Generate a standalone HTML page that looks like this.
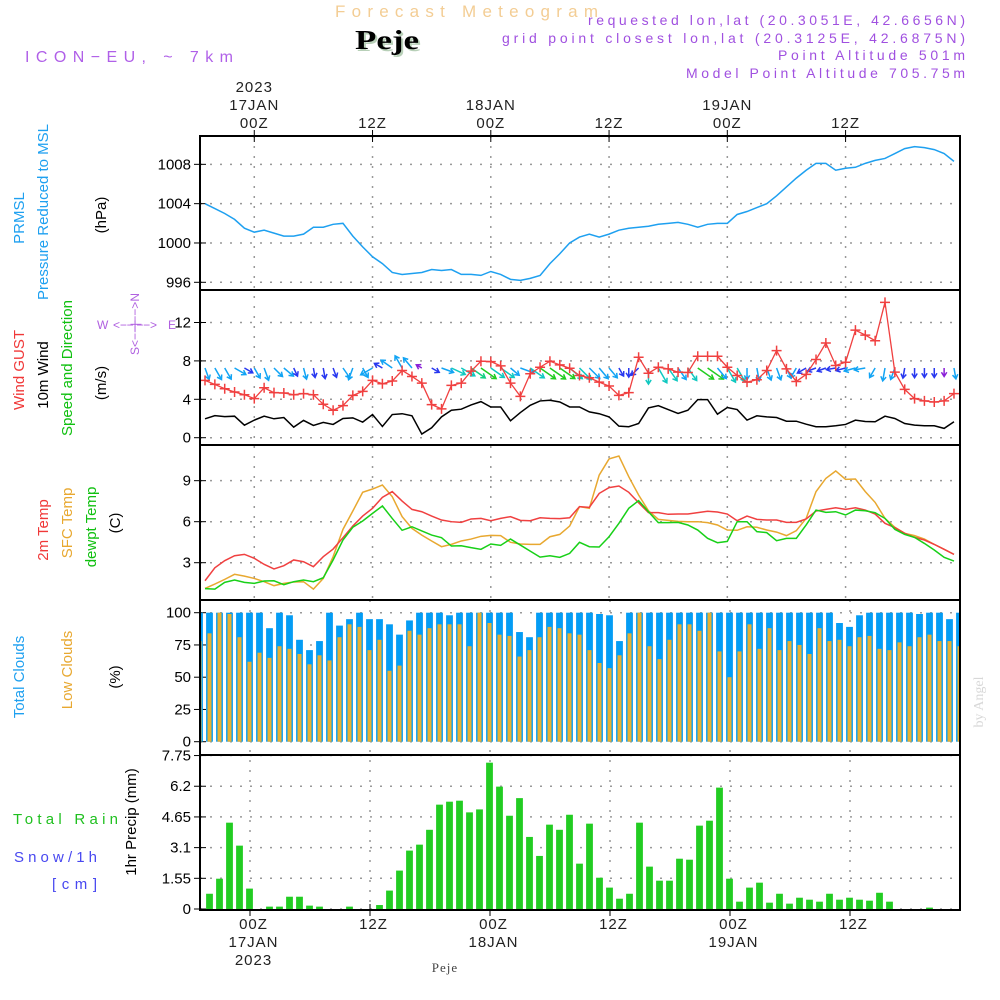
<!DOCTYPE html>
<html><head><meta charset="utf-8"><title>Forecast Meteogram - Peje</title>
<style>
html,body{margin:0;padding:0;background:#fff;}
svg{display:block;font-family:"Liberation Sans",sans-serif;}
.tk{font-size:15px;fill:#000;}
.ax{font-size:15px;fill:#222;letter-spacing:1px;}
</style></head>
<body>
<svg id="chart" width="1000" height="1000" viewBox="0 0 1000 1000" xmlns="http://www.w3.org/2000/svg">
<g>
<text x="335" y="17" font-size="17" fill="#f3cd94" textLength="263" lengthAdjust="spacing">Forecast Meteogram</text>
<text x="357" y="51" font-size="27" font-weight="bold" font-family="Liberation Serif,serif" fill="#b8d0b8" textLength="64" lengthAdjust="spacingAndGlyphs">Peje</text>
<text x="355" y="49" font-size="27" font-weight="bold" font-family="Liberation Serif,serif" fill="#000" textLength="64" lengthAdjust="spacingAndGlyphs">Peje</text>
<text x="25" y="62" font-size="16" fill="#b060e8" textLength="208" lengthAdjust="spacing">ICON−EU, ~ 7km</text>
<text x="588" y="25" font-size="14" fill="#a050e0" textLength="377" lengthAdjust="spacing">requested lon,lat (20.3051E, 42.6656N)</text>
<text x="502" y="43" font-size="14" fill="#a050e0" textLength="463" lengthAdjust="spacing">grid point closest lon,lat (20.3125E, 42.6875N)</text>
<text x="778" y="60" font-size="14" fill="#a050e0" textLength="187" lengthAdjust="spacing">Point Altitude 501m</text>
<text x="686" y="78" font-size="14" fill="#a050e0" textLength="279" lengthAdjust="spacing">Model Point Altitude 705.75m</text>
</g>
<g font-size="15">
<text transform="translate(24,218) rotate(-90)" text-anchor="middle" fill="#1ea0f0">PRMSL</text>
<text transform="translate(48,212) rotate(-90)" text-anchor="middle" fill="#1ea0f0">Pressure Reduced to MSL</text>
<text transform="translate(106,215) rotate(-90)" text-anchor="middle" fill="#000">(hPa)</text>
<text transform="translate(24,370) rotate(-90)" text-anchor="middle" fill="#f03838">Wind GUST</text>
<text transform="translate(48,375) rotate(-90)" text-anchor="middle" fill="#000">10m Wind</text>
<text transform="translate(72,368) rotate(-90)" text-anchor="middle" fill="#10c010">Speed and Direction</text>
<text transform="translate(106,383) rotate(-90)" text-anchor="middle" fill="#000">(m/s)</text>
<g font-size="12" fill="#b060e0">
<text x="97" y="329">W</text>
<text x="113" y="329" textLength="44" lengthAdjust="spacing">&lt;−−|−−&gt;</text>
<text x="168" y="329">E</text>
<text transform="translate(139,355) rotate(-90)" textLength="62" lengthAdjust="spacing">S&lt;−−|−−&gt;N</text>
</g>
<text transform="translate(48,530) rotate(-90)" text-anchor="middle" fill="#f03838">2m Temp</text>
<text transform="translate(72,523) rotate(-90)" text-anchor="middle" fill="#e8a830">SFC Temp</text>
<text transform="translate(96,527) rotate(-90)" text-anchor="middle" fill="#10c010">dewpt Temp</text>
<text transform="translate(120,523) rotate(-90)" text-anchor="middle" fill="#000">(C)</text>
<text transform="translate(24,677) rotate(-90)" text-anchor="middle" fill="#1ea0f0">Total Clouds</text>
<text transform="translate(72,670) rotate(-90)" text-anchor="middle" fill="#e8a830">Low Clouds</text>
<text transform="translate(120,677) rotate(-90)" text-anchor="middle" fill="#000">(%)</text>
<text transform="translate(136,822) rotate(-90)" text-anchor="middle" fill="#000">1hr Precip (mm)</text>
<text x="13" y="824" fill="#20c020" textLength="105" lengthAdjust="spacing">Total Rain</text>
<text x="14" y="862" fill="#4848f0" textLength="83" lengthAdjust="spacing">Snow/1h</text>
<text x="52" y="889" fill="#4848f0" textLength="45" lengthAdjust="spacing">[cm]</text>
</g>
<text transform="translate(983,702) rotate(-90)" text-anchor="middle" font-family="Liberation Serif,serif" font-size="14" fill="#d8d8d8">by Angel</text>
<text x="445" y="972" text-anchor="middle" font-family="Liberation Serif,serif" font-size="13" fill="#444" letter-spacing="1">Peje</text>
<g id="plot"></g>
</svg>
<script>
// ---- data (hourly, 19Z 16 JAN .. 23Z 19 JAN) ----
const timeLabels = ["00Z","12Z","00Z","12Z","00Z","12Z"];
const dateLabels = ["17JAN","","18JAN","","19JAN",""];
const tickHours = [5,17,29,41,53,65];
const pressure = [1004.0,1003.5,1003.0,1002.4,1001.5,1001.1,1001.3,1001.0,1000.7,1000.7,1000.9,1001.6,1001.6,1001.9,1002.0,1000.7,999.6,998.6,997.9,997.0,996.8,996.9,997.0,997.3,997.2,997.3,996.8,996.8,996.7,997.1,996.8,996.3,996.2,996.4,996.7,997.9,998.9,1000.0,1000.6,1000.9,1000.6,1000.9,1001.3,1001.5,1001.6,1001.7,1001.9,1002.0,1002.1,1001.9,1001.6,1001.9,1002.0,1002.0,1002.9,1003.2,1003.6,1004.0,1004.8,1005.7,1006.6,1007.4,1008.1,1008.1,1007.4,1007.6,1007.7,1008.1,1008.4,1008.6,1009.1,1009.6,1009.8,1009.7,1009.5,1009.1,1008.3];
const windSpeed = [1.97,2.3,2.2,2.24,1.3,1.83,2.24,1.97,2.1,1.1,1.8,1.28,1.59,1.38,2.0,2.07,1.62,2.41,1.17,2.41,2.5,2.28,0.38,1.03,2.17,2.86,2.97,3.41,3.76,3.2,3.2,1.76,2.62,3.38,3.83,3.9,3.72,3.2,3.2,2.69,2.5,2.17,1.2,1.14,1.48,3.1,3.34,2.93,2.52,2.86,3.97,3.97,2.45,3.14,2.93,1.83,2.28,2.17,2.1,1.72,1.72,1.41,1.14,1.14,1.24,1.38,1.83,1.69,1.66,2.24,2.0,1.48,1.31,1.24,1.24,0.97,1.66];
const windGust = [5.97,5.55,5.1,4.76,4.48,4.07,5.2,4.69,4.66,4.48,4.59,4.48,3.48,2.86,3.34,4.41,4.83,5.97,5.62,5.9,7.0,6.38,5.69,3.45,3.0,5.45,5.69,6.93,7.97,7.93,7.48,5.69,4.31,6.66,7.34,7.97,7.59,7.24,6.48,6.24,5.79,5.38,4.41,4.69,8.38,6.72,7.34,7.17,6.83,6.79,8.48,8.48,8.48,7.34,6.48,5.79,6.03,7.0,9.07,7.17,5.86,6.59,8.14,9.86,7.52,7.86,11.2,10.69,10.1,14.1,6.83,5.03,4.07,3.83,3.72,3.83,4.59];
const windDir = [70,60,60,30,30,60,70,45,40,65,75,80,80,70,55,110,60,150,-150,-145,-120,-130,-150,30,20,25,30,35,35,35,35,40,20,35,35,35,35,40,45,45,50,50,60,90,135,90,60,55,55,55,35,35,50,60,60,90,80,70,70,65,120,150,160,160,170,165,165,170,120,100,110,100,90,90,90,90,80];
const temp2m = [1.68,2.63,3.15,3.51,3.61,3.32,2.88,2.54,2.78,3.2,3.07,2.71,3.44,4.0,4.83,5.68,6.41,6.98,7.78,8.2,7.51,6.9,6.73,6.41,6.12,6.0,5.95,6.2,6.24,6.07,6.24,6.37,6.1,6.07,6.29,6.24,6.22,6.29,7.1,7.05,8.07,8.49,8.61,8.15,7.39,6.66,6.66,6.54,6.56,6.56,6.66,6.76,6.71,6.56,6.07,6.41,6.17,6.12,6.12,5.95,5.95,6.2,6.78,6.9,7.02,6.9,7.02,6.85,6.56,5.88,5.56,5.15,4.85,4.66,4.34,3.98,3.61];
const tempSfc = [1.12,1.44,1.78,2.15,2.02,1.85,1.61,1.32,1.49,1.59,1.61,1.07,1.85,3.44,5.44,6.78,8.15,8.39,8.68,7.83,6.37,5.51,5.02,4.59,4.17,4.34,4.59,4.73,4.93,5.0,4.98,4.49,4.37,4.34,4.34,4.9,5.07,5.68,7.1,6.98,9.41,10.59,10.8,9.29,7.95,6.8,6.17,6.1,6.02,6.0,6.0,5.93,5.76,5.39,5.37,5.63,5.59,5.39,5.24,4.98,5.34,6.24,8.2,9.17,9.71,9.1,9.12,8.2,7.41,6.24,5.59,5.15,4.98,4.73,4.34,3.98,3.61];
const dewpt = [1.1,1.07,1.56,1.73,1.56,1.49,1.66,1.68,1.39,1.61,1.73,1.61,1.9,3.2,4.66,5.59,6.05,6.61,7.15,6.24,5.37,5.63,5.32,5.02,4.83,4.22,4.24,4.1,3.98,4.37,4.27,4.73,4.29,3.85,3.41,3.51,3.39,3.68,4.49,4.17,4.15,4.9,5.88,6.98,7.54,6.73,5.93,5.93,5.95,5.76,5.39,4.78,4.46,4.56,6.0,6.0,5.27,5.2,4.61,4.78,4.78,5.76,6.85,6.68,6.73,6.49,6.85,6.8,6.66,6.24,5.44,5.07,4.85,4.41,3.93,3.39,3.12];
const totalClouds = [100,100,100,100,100,100,100,88,100,98,79,71,78,100,90,95,100,95,95,91,83,94,100,100,100,98,100,100,100,100,100,100,85,81,100,100,100,100,100,100,99,98,78,100,100,100,100,100,100,100,100,100,100,100,100,100,100,100,100,100,100,100,100,100,92,89,98,100,100,100,100,100,99,100,100,95,100];
const lowClouds = [78,84,100,99,81,62,69,65,74,72,68,60,67,63,81,91,89,71,79,55,59,86,83,88,91,91,91,74,100,92,83,82,66,71,81,89,88,84,83,71,61,57,67,84,100,74,64,79,91,91,86,100,70,50,70,91,72,88,71,78,75,68,88,78,79,74,81,82,72,71,77,74,81,83,78,78,74];
const precip = [0,0.77,1.53,4.36,3.2,1.03,0,0.12,0.12,0.62,0.62,0.17,0.12,0,0,0.12,0,0,0.2,0.93,1.94,2.95,3.25,4.0,5.27,5.42,5.47,4.88,5.03,7.39,6.18,4.71,5.6,3.64,2.68,4.26,4.0,4.76,2.29,4.31,1.58,1.08,0.52,0.77,4.36,2.14,1.43,1.43,2.54,2.49,4.21,4.46,6.13,1.53,0.37,1.08,1.33,0.32,0.77,0.27,0.57,0.47,0.37,0.77,0.47,0.57,0.47,0.42,0.82,0.37,0,0,0,0.07,0,0,0];
const pTicks = [996,1000,1004,1008];
const wTicks = [0,4,8,12];
const tTicks = [3,6,9];
const cTicks = [0,25,50,75,100];
const rTicks = ["0","1.55","3.1","4.65","6.2","7.75"];

// ---- axes ----
const xL = i => 205 + 9.855*i;
const xB = i => 199.5 + 10*i;
const yP = p => 282.3 - (p-996)*9.83;
const yW = v => 437.7 - v*9.6;
const yT = t => 562.7 - (t-3)*13.67;
const yC = c => 741.7 - c*1.29;
const yR = r => 909 - r*19.8;
const X0 = 200, X1 = 960;
const panels = [[136,290],[290,445],[445,600],[600,755],[755,910]];

const NS = "http://www.w3.org/2000/svg";
const plot = document.getElementById('plot');
function mk(tag, attrs, parent){
  const e = document.createElementNS(NS, tag);
  for (const k in attrs) e.setAttribute(k, attrs[k]);
  (parent||plot).appendChild(e);
  return e;
}

const grid = mk('g', {});


const gs = {stroke:'#999', 'stroke-width':1.5, 'stroke-dasharray':'2,8'};
function hgrid(y){ mk('line', Object.assign({x1:X0,x2:X1,y1:y,y2:y}, gs), grid); }
pTicks.forEach(v=>hgrid(yP(v)));
wTicks.forEach(v=>hgrid(yW(v)));
tTicks.forEach(v=>hgrid(yT(v)));
cTicks.forEach(v=>hgrid(yC(v)));
rTicks.forEach(v=>hgrid(yR(+v)));
tickHours.forEach(h=>{
  mk('line', Object.assign({x1:xL(h),x2:xL(h),y1:136,y2:600}, gs), grid);
  mk('line', Object.assign({x1:xB(h)+0.5,x2:xB(h)+0.5,y1:600,y2:910}, gs), grid);
});

const ytk = mk('g', {'class':'tk','text-anchor':'end'});


function ylab(txt, y){
  const t = mk('text', {x:191, y:y+5}, ytk); t.textContent = txt;
  mk('line', {x1:194,x2:206,y1:y,y2:y,stroke:'#000','stroke-width':1}, ytk);
}
pTicks.forEach(v=>ylab(String(v), yP(v)));
wTicks.forEach(v=>ylab(String(v), yW(v)));
tTicks.forEach(v=>ylab(String(v), yT(v)));
cTicks.forEach(v=>ylab(String(v), yC(v)));
rTicks.forEach(v=>ylab(v, yR(+v)));

const xt = mk('g', {'class':'ax','text-anchor':'middle'});


tickHours.forEach((h,k)=>{
  const xa = xL(h), xb = xB(h)+4;
  let t = mk('text', {x:xa, y:128}, xt); t.textContent = timeLabels[k];
  mk('line', {x1:xa,x2:xa,y1:130,y2:142,stroke:'#000'}, xt);
  if (dateLabels[k]) { t = mk('text', {x:xa, y:110}, xt); t.textContent = dateLabels[k]; }
  t = mk('text', {x:xb, y:929}, xt); t.textContent = timeLabels[k];
  mk('line', {x1:xB(h)+0.5,x2:xB(h)+0.5,y1:904,y2:916,stroke:'#000'}, xt);
  if (dateLabels[k]) { t = mk('text', {x:xb, y:947}, xt); t.textContent = dateLabels[k]; }
});
let yr = mk('text', {x:xL(5), y:92}, xt); yr.textContent = '2023';
yr = mk('text', {x:xB(5)+4, y:965}, xt); yr.textContent = '2023';

const pl = mk('polyline', {fill:'none', stroke:'#1ea0f0','stroke-width':1.5, points: pressure.map((v,i)=>xL(i)+','+yP(v)).join(' ')});



const wl = mk('polyline', {fill:'none', stroke:'#000','stroke-width':1.5, points: windSpeed.map((v,i)=>xL(i)+','+yW(v)).join(' ')});



const wa = mk('g', {'stroke-width':1.5, fill:'none'});


function spdColor(s){
  if (s < 1) return '#8a20d8';
  if (s < 1.6) return '#2838f0';
  if (s < 2.7) return '#12a4f4';
  if (s < 3.4) return '#10c8c0';
  if (s < 3.7) return '#10d080';
  return '#20cc20';
}
windDir.forEach((d,i)=>{
  const s = windSpeed[i], L = 5 + 3.6*s, a = d*Math.PI/180;
  const x0 = xL(i), y0 = 368, x1 = x0 + L*Math.cos(a), y1 = y0 + L*Math.sin(a);
  const c = spdColor(s);
  const h1 = a + Math.PI*0.82, h2 = a - Math.PI*0.82;
  const p = mk('path', {stroke:c, d:`M${x0},${y0}L${x1},${y1}M${x1+5*Math.cos(h1)},${y1+5*Math.sin(h1)}L${x1},${y1}L${x1+5*Math.cos(h2)},${y1+5*Math.sin(h2)}`}, wa);
  
  
});

const gl = mk('polyline', {fill:'none', stroke:'#f04040','stroke-width':1.3, points: windGust.map((v,i)=>xL(i)+','+yW(v)).join(' ')});


const gm = mk('g', {stroke:'#f04040','stroke-width':1.5});


windGust.forEach((v,i)=>{
  const x = xL(i), y = yW(v);
  mk('path', {d:`M${x-5},${y}H${x+5}M${x},${y-5}V${y+5}`}, gm);
});

[[tempSfc,'#e8a830','sfc-temp-line'],[temp2m,'#f04040','temp-2m-line'],[dewpt,'#18d018','dewpoint-line']].forEach(([arr,col,nm])=>{
  const l = mk('polyline', {fill:'none', stroke:col,'stroke-width':1.5, points: arr.map((v,i)=>xL(i)+','+yT(v)).join(' ')});
  
  
});

const cg = mk('g', {});


totalClouds.forEach((v,i)=>{
  const x = xB(i);
  const b = mk('rect', {x:Math.max(X0, x-3.4), y:yC(v), width:Math.min(X1, x+3.4)-Math.max(X0, x-3.4), height:yC(0)-yC(v), fill:'#049cf4'}, cg);
  
  
  const lv = lowClouds[i];
  const o = mk('rect', {x:Math.max(X0, x-2), y:yC(lv), width:Math.min(X1, x+2)-Math.max(X0, x-2), height:yC(0)-yC(lv), fill:'#e8b030'}, cg);
  
  
});

const rg = mk('g', {});


precip.forEach((v,i)=>{
  if (v <= 0) return;
  const b = mk('rect', {x:xB(i)-3.4, y:yR(v), width:6.8, height:yR(0)-yR(v), fill:'#22cc22'}, rg);
  
  
});

const fr = mk('g', {fill:'none', stroke:'#000','stroke-width':2});


panels.forEach(([a,b])=>mk('rect', {x:X0, y:a, width:X1-X0, height:b-a}, fr));
</script>
</body></html>
